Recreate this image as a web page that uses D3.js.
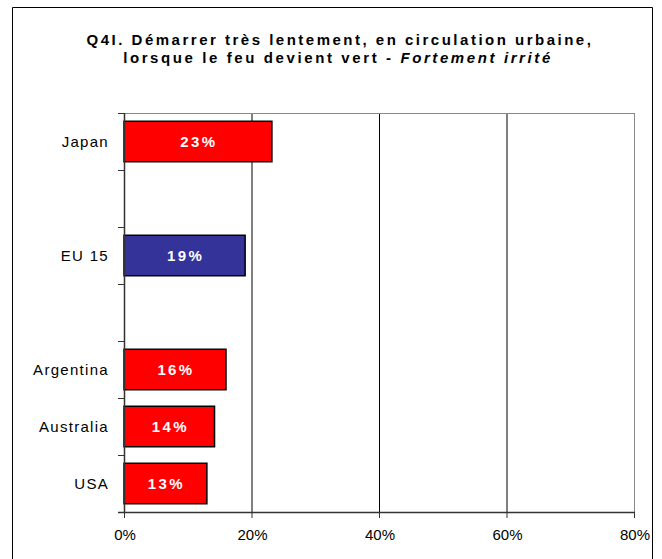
<!DOCTYPE html>
<html><head><meta charset="utf-8">
<script src="https://cdn.jsdelivr.net/npm/d3@7"></script>
<style>body{margin:0;background:#fff;} svg{display:block;font-family:"Liberation Sans",Arial,sans-serif;}</style>
</head><body>
<svg id="c" width="662" height="559"></svg>
<script>
const categories = ["Japan", "", "EU 15", " ", "Argentina", "Australia", "USA"];
const values = [23.2, null, 19.0, null, 16.0, 14.2, 13.0];
const labels = ["23%", "", "19%", "", "16%", "14%", "13%"];
const barColors = ["#ff0000", null, "#333399", null, "#ff0000", "#ff0000", "#ff0000"];
const xTicks = [0, 20, 40, 60, 80];

const svg = d3.select("#c");
// outer frame
svg.append("path").attr("d","M12.5,570V7.5H652.5V570").attr("fill","none").attr("stroke","#000").attr("stroke-width",1);

const m = {l:124, r:634, t:113, b:512};
const x = d3.scaleLinear().domain([0,80]).range([m.l, m.r]);
const y = d3.scaleBand().domain(categories).range([m.t, m.b]).paddingInner(0.29).paddingOuter(0.145);
const slot = d3.scaleBand().domain(categories).range([m.t, m.b]);

// title
const title = svg.append("text").attr("text-anchor","middle").attr("font-size",15).attr("font-weight","bold").attr("fill","#000");
title.append("tspan").attr("x",340).attr("y",45).attr("letter-spacing","2.5px").text("Q4I. Démarrer très lentement, en circulation urbaine,");
const t2 = title.append("tspan").attr("x",338).attr("y",63).attr("letter-spacing","2.6px");
t2.append("tspan").text("lorsque le feu devient vert - ");
t2.append("tspan").attr("font-style","italic").text("Fortement irrité");

// gridlines
svg.append("g").selectAll("line").data(xTicks.slice(1)).join("line")
  .attr("x1",d=>x(d)+0.5).attr("x2",d=>x(d)+0.5).attr("y1",m.t).attr("y2",m.b)
  .attr("stroke",d=>d===80?"#888":"#000").attr("stroke-width",1);
// top border
svg.append("line").attr("x1",m.l).attr("x2",m.r+1).attr("y1",m.t+0.5).attr("y2",m.t+0.5).attr("stroke","#888");

// bars
const data = categories.map((c,i)=>({c, v:values[i], lab:labels[i], col:barColors[i]})).filter(d=>d.v!=null);
svg.append("g").selectAll("rect").data(data).join("rect")
  .attr("x",x(0)).attr("y",d=>y(d.c)).attr("width",d=>x(d.v)-x(0)).attr("height",y.bandwidth())
  .attr("fill",d=>d.col).attr("stroke","#000").attr("stroke-width",1.5);
svg.append("g").selectAll("text").data(data).join("text")
  .attr("x",d=>(x(0)+x(d.v))/2+1).attr("y",d=>y(d.c)+y.bandwidth()/2+5)
  .attr("text-anchor","middle").attr("fill","#fff").attr("font-weight","bold").attr("font-size",15)
  .attr("letter-spacing","2.4px").text(d=>d.lab);

// left axis
const left = svg.append("g");
left.append("line").attr("x1",m.l+0.5).attr("x2",m.l+0.5).attr("y1",m.t).attr("y2",m.b+1).attr("stroke","#333").attr("stroke-width",1.5);
const bounds = categories.map(c=>slot(c)).concat([m.b]);
left.selectAll("line.tk").data(bounds).join("line").attr("class","tk")
  .attr("x1",m.l-6).attr("x2",m.l).attr("y1",d=>Math.round(d)+0.5).attr("y2",d=>Math.round(d)+0.5).attr("stroke","#333");
left.selectAll("text").data(categories.filter(c=>c.trim()!=="")).join("text")
  .attr("x",109).attr("y",c=>slot(c)+slot.bandwidth()/2+5).attr("text-anchor","end")
  .attr("font-size",15).attr("letter-spacing","1.3px").attr("fill","#000").text(c=>c);

// bottom axis
const bottom = svg.append("g");
bottom.append("line").attr("x1",m.l-6).attr("x2",m.r+1).attr("y1",m.b+0.5).attr("y2",m.b+0.5).attr("stroke","#333").attr("stroke-width",1.5);
bottom.selectAll("line.tk").data(xTicks).join("line").attr("class","tk")
  .attr("x1",d=>x(d)+0.5).attr("x2",d=>x(d)+0.5).attr("y1",m.b).attr("y2",m.b+6).attr("stroke","#333");
bottom.selectAll("text").data(xTicks).join("text")
  .attr("x",d=>x(d)+1).attr("y",540).attr("text-anchor","middle").attr("font-size",15).attr("fill","#000")
  .text(d=>d+"%");
</script>
</body></html>
